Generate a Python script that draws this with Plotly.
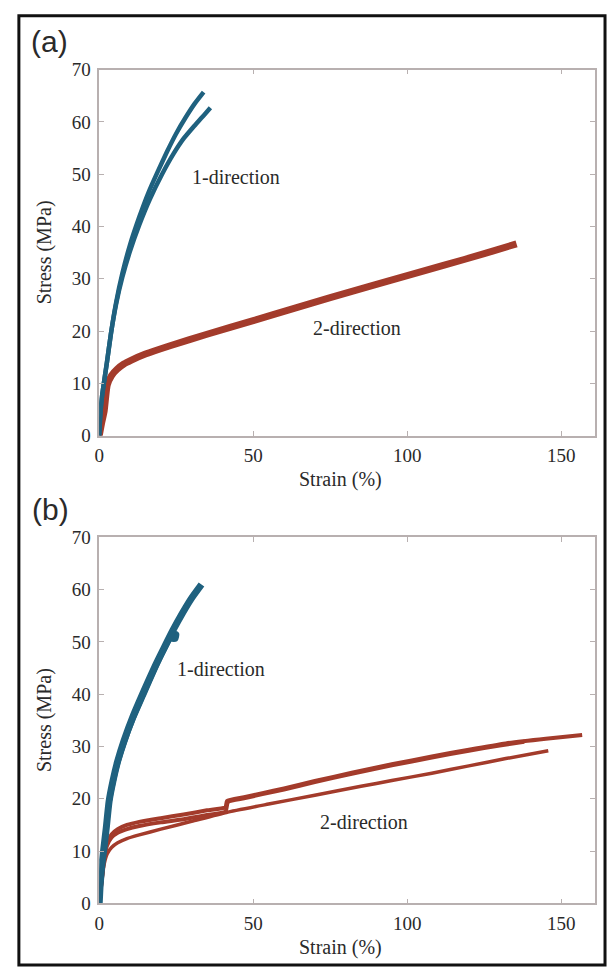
import plotly.graph_objects as go

# ---------------- data ----------------
# Panel (a)
a_blue1_strain = [0, 0.3, 0.8, 1.5, 2.5, 3.8, 5.5, 7.5, 10, 13, 16, 19, 22, 25, 28, 31, 33.9]
a_blue1_stress = [0, 3.5, 7, 10, 14, 19.5, 25.5, 31, 36.5, 41.8, 46.5, 50.5, 54.3, 57.8, 60.8, 63.5, 65.7]
a_blue2_strain = [0, 0.3, 0.8, 1.5, 2.5, 3.8, 5.5, 7.5, 10, 13, 16.5, 20.4, 24, 27.5, 30.5, 32.3, 34, 36.1]
a_blue2_stress = [0, 3.5, 7, 10, 14, 19.5, 25.2, 30.3, 35.3, 40.3, 45.3, 50, 53.8, 56.9, 59.0, 60.2, 61.3, 62.7]
a_red_strain = [0, 0.8, 1.6, 2.6, 4, 5.8, 8, 10.3, 15, 23, 35, 50, 63, 75, 88, 100, 112, 125, 135.5]
a_red_stress = [0, 2.5, 4.7, 9.7, 11.5, 12.7, 13.7, 14.4, 15.6, 17.2, 19.4, 22.0, 24.3, 26.4, 28.6, 30.6, 32.6, 34.8, 36.7]

# Panel (b)
b_blue1_strain = [0, 0.3, 0.8, 1.5, 2.3, 3.2, 4.5, 6, 8.1, 11, 14.5, 18, 21, 24, 27, 30, 33.2]
b_blue1_stress = [0, 3.5, 7, 10.5, 14.5, 19.5, 23.5, 27.2, 31.2, 35.8, 40.6, 45.2, 48.8, 52.3, 55.5, 58.4, 61.0]
b_blue2_strain = [0, 0.3, 0.8, 1.5, 2.3, 3.2, 4.5, 6, 8.1, 11, 14.5, 18, 21, 24.2, 25.2, 24.8, 23.5]
b_blue2_stress = [0, 3, 6.5, 10, 14, 19.0, 23, 26.7, 30.6, 35.2, 39.9, 44.6, 48.3, 51.7, 51.5, 50.5, 50.5]
b_red1_strain = [0, 0.8, 1.6, 2.5, 4, 6, 9, 13, 20, 27.4, 35, 41, 41.5, 47, 53, 60, 70, 82, 95, 108, 120, 132, 145, 156.8]
b_red1_stress = [0, 4.5, 9, 11.5, 13.2, 14.2, 15, 15.6, 16.3, 17.0, 17.8, 18.4, 19.6, 20.3, 21.1, 22.0, 23.4, 25.0, 26.6, 28.1, 29.4, 30.6, 31.5, 32.2]
b_red2_strain = [0, 0.8, 1.6, 2.5, 4, 6, 9, 13, 20, 27.4, 35, 41, 41.8, 47, 53, 60, 70, 82, 95, 108, 120, 130, 138]
b_red2_stress = [0, 4.2, 8.5, 11, 12.6, 13.5, 14.2, 14.8, 15.5, 16.1, 16.9, 17.6, 19.4, 20.1, 20.9, 21.8, 23.2, 24.8, 26.4, 27.9, 29.2, 30.2, 30.9]
b_red3_strain = [0, 0.8, 1.6, 2.6, 4, 6, 9, 13, 20, 30, 41.3, 55, 70, 85, 95, 108, 120, 132, 145.8]
b_red3_stress = [0, 4, 7.5, 9.5, 10.7, 11.6, 12.4, 13.1, 14.2, 15.7, 17.4, 19.0, 20.7, 22.4, 23.5, 24.9, 26.3, 27.7, 29.2]

x_ticks = [0, 50, 100, 150]
y_ticks = [0, 10, 20, 30, 40, 50, 60, 70]

BLUE = "#1f617f"
RED = "#a33b2b"
AXC = "#b8b0b0"
TXT = "#2a2a2a"
W, H = 607, 978

fig = go.Figure()

def add(x, y, color, width, xa, ya):
    fig.add_trace(go.Scatter(x=x, y=y, mode="lines", xaxis=xa, yaxis=ya,
                             line=dict(color=color, width=width, shape="spline", smoothing=0.5),
                             showlegend=False, hoverinfo="skip"))

add(a_red_strain, a_red_stress, RED, 7, "x", "y")
add(a_blue1_strain, a_blue1_stress, BLUE, 4.5, "x", "y")
add(a_blue2_strain, a_blue2_stress, BLUE, 4.5, "x", "y")

add(b_red3_strain, b_red3_stress, RED, 3.5, "x2", "y2")
add(b_red2_strain, b_red2_stress, RED, 4, "x2", "y2")
add(b_red1_strain, b_red1_stress, RED, 4, "x2", "y2")
add(b_blue2_strain, b_blue2_stress, BLUE, 5, "x2", "y2")
add(b_blue1_strain, b_blue1_stress, BLUE, 7, "x2", "y2")

xdom = [95 / W, 595 / W]
dom_a = [1 - 435 / H, 1 - 61 / H]
dom_b = [1 - 913 / H, 1 - 539 / H]

SERIF = "Liberation Serif, Times New Roman, serif"
tickfont = dict(family=SERIF, size=19, color=TXT)

def xaxis(anchor, dom):
    return dict(domain=dom, anchor=anchor, range=[0, 161], tickvals=x_ticks,
                showgrid=False, zeroline=False, showline=True, linecolor=AXC, linewidth=1.5,
                mirror="ticks", ticks="inside", ticklen=5, tickcolor=AXC, tickwidth=1,
                tickfont=tickfont, ticklabelstandoff=2)

def yaxis(anchor, dom):
    return dict(domain=dom, anchor=anchor, range=[0, 70], tickvals=y_ticks,
                showgrid=False, zeroline=False, showline=True, linecolor=AXC, linewidth=1.5,
                mirror="ticks", ticks="inside", ticklen=5, tickcolor=AXC, tickwidth=1,
                tickfont=tickfont, ticklabelstandoff=3)

fig.update_layout(
    width=W, height=H, margin=dict(l=0, r=0, t=0, b=0),
    paper_bgcolor="white", plot_bgcolor="white",
    xaxis=xaxis("y", xdom), yaxis=yaxis("x", dom_a),
    xaxis2=xaxis("y2", xdom), yaxis2=yaxis("x2", dom_b),
)

def pa(x, y, text, size=20, family=SERIF, angle=0):
    fig.add_annotation(x=x / W, y=1 - y / H, xref="paper", yref="paper", text=text,
                       showarrow=False, xanchor="center", yanchor="middle", textangle=angle,
                       font=dict(family=family, size=size, color=TXT))

pa(45, 32, "(a)", size=30, family="Liberation Sans, Arial, sans-serif")
pa(46, 510, "(b)", size=30, family="Liberation Sans, Arial, sans-serif")
pa(40, 248, "Stress (MPa)", angle=-90)
pa(40, 726, "Stress (MPa)", angle=-90)
pa(338, 480, "Strain (%)")
pa(338, 958, "Strain (%)")
pa(233, 171, "1-direction")
pa(355, 325, "2-direction")
pa(218, 673, "1-direction")
pa(362, 830, "2-direction")

fig.add_shape(type="rect", xref="paper", yref="paper",
              x0=14 / W, x1=605 / W, y0=1 - 976 / H, y1=1 - 6 / H,
              line=dict(color="#111111", width=3), fillcolor="rgba(0,0,0,0)")

fig.write_html("out.html")
